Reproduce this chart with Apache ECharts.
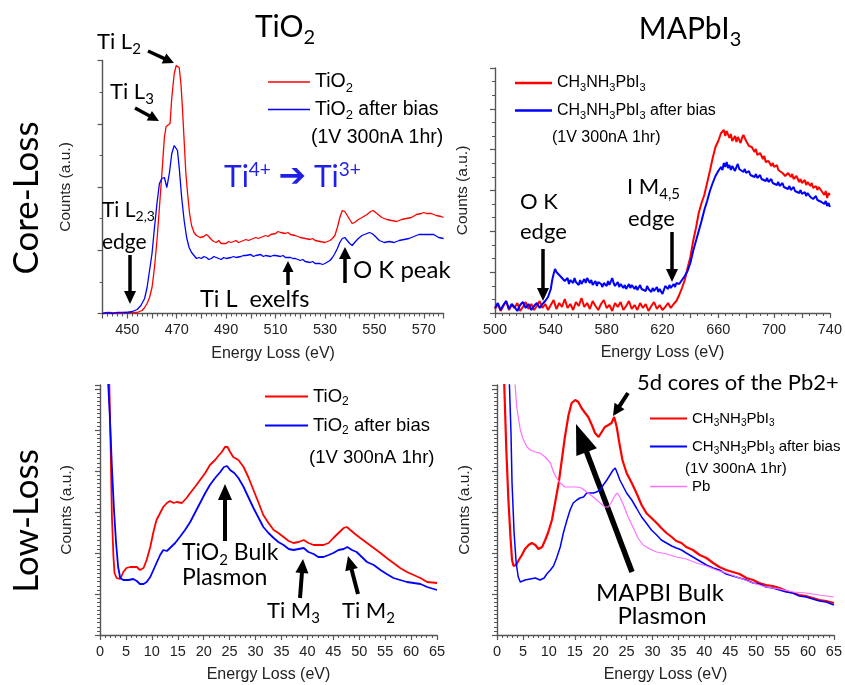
<!DOCTYPE html>
<html><head><meta charset="utf-8">
<script src="https://cdn.jsdelivr.net/npm/echarts@6/dist/echarts.min.js"></script>
<style>html,body{margin:0;padding:0;background:#fff}#c{width:845px;height:685px}</style>
</head><body><div id="c"></div>
<script>
// ---------- DATA (energy loss eV, counts a.u.) ----------
const coreTiO2 = [[440,0],[443,1],[446,0],[449,1],[452,1],[454,1],[455,2],[456,3],[457,6],[458,10],[459,16],[460,26],[461,46],[462,73],[463,106],[464,140],[465,176],[465.7,187],[466.5,186],[467.3,190],[468,216],[469,240],[469.8,248],[470.3,250],[471,246],[471.7,230],[472.3,206],[473,173],[473.7,140],[474.4,120],[475.2,100],[476,88],[477,81],[478,78],[479.5,76],[481,77],[482,79],[483,77],[484,74],[485,72],[486,71],[487,73],[488,70],[490,70],[491,72],[492,71],[494,73],[495,71],[496,72],[498,74],[499,73],[500,74],[502,76],[503,75],[504,76],[506,78],[507,77],[508,79],[510,80],[511,82],[512,81],[514,80],[515,81],[516,79],[518,78],[519,77],[520,76],[522,75],[524,74],[525,75],[526,73],[528,72],[530,71],[531,72],[532,73],[533,75],[534,78],[535,86],[536,96],[537,103],[538,102],[539,98],[540,94],[541,90],[542,91],[543.5,94],[545,96],[547,99],[548.5,102],[549.5,103],[551,100],[553,96],[555,94],[557,93],[559,92],[561,94],[563,95],[565,96],[567,99],[569,100],[570,101],[571,100],[573,100],[575,98],[577,97],[578,96]];
const coreTiO2Bias = [[440,0],[442,1],[444,0],[446,1],[448,1],[450,1],[452,2],[454,4],[455.5,8],[457,15],[458,26],[459,43],[460,60],[461,86],[462,110],[463,130],[464,135],[465,136],[466,126],[467,140],[468,160],[469,168],[469.5,169],[470.3,163],[471,146],[472,116],[473,93],[474,76],[475,66],[476,61],[477,58],[478,55],[479,56],[480,55],[481,57],[482,56],[483,54],[484,55],[485,57],[486,56],[487,55],[488,54],[489,56],[490,55],[492,56],[493,57],[494,56],[496,57],[497,58],[498,58],[500,59],[501,57],[502,58],[504,59],[505,57],[506,58],[508,57],[509,58],[510,58],[512,57],[513,58],[514,56],[516,56],[517,55],[518,55],[520,53],[521,54],[522,52],[524,51],[525,52],[526,50],[528,50],[529,49],[530,50],[532,53],[533,56],[534,60],[535,65],[536,71],[537,75],[538,76],[539,73],[540,70],[541,68],[542,71],[543.5,75],[545,78],[547,80],[548,81],[549,80],[550,78],[552,73],[554,71],[556,72],[558,71],[560,73],[562,74],[564,75],[566,77],[568,79],[570,79],[572,79],[574,79],[576,76],[578,75]];
const coreMAPbI3 = [[500,4],[502,9],[504,2],[506,7],[508,12],[510,3],[512,8],[514,5],[516,10],[518,2],[520,6],[522,11],[524,4],[526,9],[528,3],[530,7],[532,12],[534,5],[536,9],[538,3],[540,8],[542,13],[544,4],[546,10],[548,6],[550,14],[552,5],[554,9],[556,3],[558,11],[560,7],[562,15],[564,6],[566,10],[568,4],[570,12],[572,7],[574,3],[576,9],[578,13],[580,5],[582,8],[584,2],[586,10],[588,6],[590,11],[592,3],[594,7],[596,12],[598,4],[600,8],[602,3],[604,10],[606,5],[608,9],[610,2],[612,7],[614,11],[616,4],[618,8],[620,3],[622,6],[624,10],[626,5],[628,9],[630,12],[632,18],[634,25],[636,33],[638,45],[640,56],[642,72],[644,85],[646,100],[648,110],[650,118],[652,130],[654,142],[656,155],[658,166],[660,172],[662,180],[663,178],[664,183],[665,177],[666,182],[668,175],[669,179],[670,172],[672,177],[673,171],[674,176],[676,170],[677,175],[678,178],[680,172],[681,174],[682,167],[684,166],[686,161],[687,164],[688,158],[690,160],[692,154],[693,157],[694,151],[696,152],[698,147],[699,150],[700,146],[702,148],[703,143],[704,145],[706,140],[707,142],[708,137],[710,140],[712,136],[713,139],[714,134],[716,137],[718,131],[719,134],[720,130],[722,133],[723,128],[724,131],[726,127],[727,130],[728,125],[730,127],[731,123],[732,126],[734,122],[735,124],[736,118],[737,122],[738,115],[739,120],[740,118]];
const coreMAPbI3Bias = [[500,5],[502,10],[504,3],[506,8],[508,12],[510,4],[512,9],[514,6],[516,2],[518,8],[520,11],[522,5],[524,9],[526,3],[528,7],[530,10],[532,5],[534,9],[536,12],[538,16],[540,24],[541,33],[542,39],[543,44],[544,41],[545,43],[546,38],[547,40],[548,35],[549,37],[550,32],[552,35],[553,29],[554,33],[556,30],[557,35],[558,31],[560,28],[561,33],[562,29],[564,34],[565,30],[566,35],[568,30],[569,33],[570,28],[572,32],[573,27],[574,31],[576,29],[577,26],[578,30],[580,27],[581,32],[582,28],[584,35],[585,30],[586,27],[588,31],[589,26],[590,29],[592,25],[593,28],[594,24],[596,29],[597,25],[598,28],[600,24],[601,27],[602,23],[604,28],[605,24],[606,26],[608,22],[609,27],[610,24],[612,21],[613,25],[614,22],[616,26],[617,21],[618,24],[620,19],[621,23],[622,27],[624,24],[625,28],[626,25],[628,29],[629,26],[630,30],[632,29],[634,33],[636,37],[638,42],[640,50],[642,62],[644,72],[646,82],[648,92],[650,103],[652,112],[654,122],[656,130],[658,137],[660,142],[662,146],[663,143],[664,150],[665,146],[666,151],[667,145],[668,148],[669,143],[670,147],[672,142],[673,146],[674,149],[675,144],[676,146],[678,141],[679,144],[680,140],[682,142],[683,138],[684,140],[686,136],[687,139],[688,135],[690,138],[691,134],[692,136],[694,132],[695,135],[696,131],[698,134],[699,130],[700,132],[702,128],[703,131],[704,127],[706,130],[707,126],[708,128],[710,124],[711,127],[712,123],[714,126],[715,122],[716,124],[718,120],[719,123],[720,119],[722,121],[723,117],[724,120],[726,116],[727,118],[728,114],[730,117],[731,113],[732,115],[734,111],[735,113],[736,109],[737,112],[738,107],[739,110],[740,106]];
const lowTiO2 = [[1.3,330],[1.8,250],[2.06,185],[2.3,118],[2.6,78],[2.8,62],[3.2,57],[3.9,56],[4.5,63],[5.1,67],[5.8,68],[6.4,68],[7.1,68],[7.7,65],[8.4,67],[9,75],[9.7,88],[10.3,103],[10.9,115],[11.6,122],[12.2,128],[12.9,132],[13.5,134],[14.2,132],[14.8,133],[15.8,132],[16.7,137],[17.4,142],[18.3,148],[19.3,155],[20.3,162],[21.2,170],[22.2,175],[22.8,179],[23.5,183],[24.1,188],[24.6,188],[25.1,183],[25.7,178],[26.7,175],[27.7,168],[28.6,158],[29.6,145],[30.6,132],[31.5,120],[32.5,112],[33.5,105],[34.4,102],[35.4,98],[36.4,94],[37.3,92],[38.3,93],[39.3,95],[40.2,92],[41.2,90],[42.1,90],[43.1,90],[44.1,92],[45,97],[46,102],[47,107],[47.6,108],[48.3,105],[49.2,101],[50.2,97],[51.5,92],[52.8,87],[54.1,82],[55.3,77],[56.6,72],[57.9,67],[59.2,63],[60.5,60],[61.8,57],[63.1,53],[65,52]];
const lowTiO2Bias = [[1.4,330],[1.6,250],[1.9,218],[2.3,168],[2.7,125],[3.1,92],[3.5,68],[3.9,57],[4.5,55],[5.5,55],[6.4,56],[7.1,54],[7.7,51],[8.4,51],[9,53],[9.7,58],[10.3,65],[10.9,72],[11.6,80],[12.2,85],[12.9,84],[13.5,87],[14.5,92],[15.4,98],[16.4,105],[17.4,113],[18.3,122],[19.3,132],[20.3,142],[21.2,150],[22.2,157],[23.2,163],[23.9,168],[24.5,169],[25.1,165],[25.9,162],[26.7,157],[27.7,148],[28.6,138],[29.6,127],[30.6,117],[31.5,108],[32.5,102],[33.5,97],[34.4,93],[35.4,90],[36.4,86],[37.3,85],[38.3,86],[39.3,87],[40.2,83],[41.2,81],[42.1,78],[43.1,78],[44.1,80],[45,82],[46,85],[47,86],[47.7,88],[48.6,85],[49.5,83],[50.5,78],[51.5,73],[52.8,70],[54.1,65],[55.3,61],[56.6,57],[57.9,55],[59.2,53],[60.5,52],[61.8,51],[63.1,48],[65,45]];
const lowMAPbI3 = [[1.1,330],[1.4,250],[1.8,185],[2.2,135],[2.6,98],[2.9,75],[3.2,69],[3.7,70],[4.2,75],[4.8,80],[5.4,86],[6.1,90],[6.7,92],[7.4,90],[8,86],[8.7,88],[9.3,95],[9.9,103],[10.6,115],[11.2,132],[11.9,152],[12.5,175],[13.1,198],[13.8,220],[14.4,232],[15.1,235],[15.7,233],[16.3,227],[17,222],[17.6,218],[18.3,210],[18.9,202],[19.6,198],[20.2,203],[20.8,208],[21.5,210],[22.1,212],[22.6,218],[23.1,208],[23.6,192],[24.2,175],[25,162],[26,152],[26.9,142],[27.9,130],[28.8,122],[29.8,117],[30.8,112],[31.7,107],[32.7,102],[33.7,98],[34.6,94],[35.6,92],[36.5,88],[37.8,85],[39.1,80],[40.4,77],[41.7,72],[42.9,68],[44.2,65],[45.5,63],[46.8,61],[48.1,57],[49.4,55],[50.6,52],[51.9,50],[53.2,49],[54.5,47],[55.8,44],[57.1,42],[58.3,40],[59.6,39],[60.9,37],[62.2,35],[63.5,34],[65,32]];
const lowMAPbI3Bias = [[2.2,330],[2.4,250],[2.7,202],[2.9,152],[3.3,102],[3.7,72],[4.1,58],[4.5,53],[5.4,55],[6.4,56],[7.4,57],[8.3,55],[9.1,57],[9.6,61],[10.3,65],[10.9,69],[11.5,77],[12.2,88],[12.8,102],[13.5,115],[14.1,125],[14.7,132],[15.4,135],[16,137],[16.7,138],[17.3,142],[17.9,142],[18.6,142],[19.2,143],[19.9,145],[20.5,150],[21.2,155],[21.8,160],[22.4,165],[22.8,167],[23.2,162],[23.7,155],[24.4,148],[25,142],[26,135],[26.9,127],[27.9,118],[28.8,112],[29.8,105],[30.8,100],[31.7,95],[32.7,92],[33.7,89],[34.6,87],[35.6,85],[36.5,82],[37.8,78],[39.1,74],[40.4,70],[41.7,67],[42.9,65],[44.2,61],[45.5,59],[46.8,57],[48.1,55],[49.4,52],[50.6,51],[51.9,48],[53.2,47],[54.5,45],[55.8,43],[57.1,42],[58.3,39],[59.6,38],[60.9,36],[62.2,34],[63.5,33],[65,30]];
const lowPb = [[3.3,330],[3.5,250],[3.8,228],[4.2,215],[4.5,205],[5.1,195],[5.8,188],[6.4,185],[7.4,183],[8.3,182],[9.3,178],[10.3,172],[10.9,163],[11.5,157],[12.2,152],[13.1,148],[14.1,148],[15.4,148],[16.3,147],[17.3,143],[18.6,138],[19.9,132],[20.8,128],[21.5,128],[22.1,133],[22.8,140],[23.2,142],[23.7,138],[24.4,130],[25.3,118],[26.3,107],[27.2,97],[28.2,90],[29.5,86],[30.8,83],[32.7,81],[34.6,78],[36.5,76],[38.5,72],[40.4,69],[42.3,65],[44.2,62],[46.8,57],[49.4,52],[51.9,48],[54.5,46],[57.1,43],[59.6,42],[62.2,40],[65,38]];

// tick label sets
const coreTiO2Ticks = [450,470,490,510,530,550,570];
const coreMAPbTicks = [500,540,580,620,660,700,740];
const lowTicks = [0,5,10,15,20,25,30,35,40,45,50,55,60,65];

// ---------- STYLE ----------
const AX = 'Liberation Sans, Arial, sans-serif';
const AN = 'Lato, sans-serif';
const axCol = '#555';
const RED = '#ff0000', BLUE = '#0000ff', PINK = '#ff70ff';

function subStyle(F, fam, color) {
  return {fontSize: Math.round(F*0.66), fontFamily: fam, fill: color, color: color,
    verticalAlign: 'top', padding: [Math.round(F*0.62), 0, 0, 0]};
}
function annRich(F, color, fam) {
  color = color || '#000';
  fam = fam || AN;
  return {
    s: subStyle(F, fam, color),
    p: {fontSize: Math.round(F*0.64), fontFamily: fam, fill: color, color: color, verticalAlign: 'top', lineHeight: Math.round(F*0.42)},
    a: {fontSize: Math.round(F*1.1), fontFamily: 'DejaVu Sans', fill: color, color: color}
  };
}
const subFmt = n => n.replace(/(\d)/g, '{s|$1}');

function xAxisCfg(grid, min, max, interval, labels, minorSplit) {
  return {
    type: 'value', gridIndex: grid, min, max, interval,
    name: 'Energy Loss (eV)', nameLocation: 'middle', nameGap: 32,
    nameTextStyle: {fontFamily: AX, fontSize: 16, color: '#222'},
    axisLine: {show: true, onZero: false, lineStyle: {color: axCol, width: 1.4}},
    axisTick: {show: true, length: 5, lineStyle: {color: axCol, width: 1.2}},
    minorTick: {show: true, splitNumber: minorSplit, length: 3, lineStyle: {color: axCol}},
    splitLine: {show: false},
    axisLabel: {margin: 9, fontFamily: AX, fontSize: 14.5, color: '#222',
      formatter: v => labels.indexOf(Math.round(v)) >= 0 && Math.abs(v - Math.round(v)) < 1e-6 ? String(Math.round(v)) : ''}
  };
}
function yAxisCfg(grid, max, interval, minorSplit, gap) {
  return {
    type: 'value', gridIndex: grid, min: 0, max, interval,
    name: 'Counts (a.u.)', nameLocation: 'middle', nameGap: gap,
    nameTextStyle: {fontFamily: AX, fontSize: 15.5, color: '#222'},
    axisLine: {show: true, onZero: false, lineStyle: {color: axCol, width: 1.4}},
    axisTick: {show: true, length: 5, lineStyle: {color: axCol, width: 1.2}},
    minorTick: {show: true, splitNumber: minorSplit, length: 3, lineStyle: {color: axCol}},
    splitLine: {show: false},
    axisLabel: {show: false}
  };
}
function ser(name, data, xi, color, w) {
  return {name, type: 'line', data, xAxisIndex: xi, yAxisIndex: xi, symbol: 'none', showSymbol: false,
    clip: true, lineStyle: {color, width: w}, itemStyle: {color}, animation: false, z: 3};
}
function legendCfg(left, top, iw, lw, F, gap, names) {
  return {
    left, top, orient: 'vertical', icon: 'rect', itemWidth: iw, itemHeight: lw, itemGap: gap, data: names,
    formatter: subFmt,
    textStyle: {fontFamily: AX, fontSize: F, color: '#000', rich: {s: subStyle(F, AX, '#000')}},
    selectedMode: false
  };
}
function arrow(x1, y1, x2, y2, w, hl, hw) {
  const dx = x2-x1, dy = y2-y1, L = Math.hypot(dx, dy), ux = dx/L, uy = dy/L, px = -uy, py = ux;
  const bx = x2-ux*hl, by = y2-uy*hl;
  return {type: 'group', silent: true, children: [
    {type: 'line', shape: {x1, y1, x2: bx+ux, y2: by+uy}, style: {stroke: '#000', lineWidth: w}},
    {type: 'polygon', shape: {points: [[x2, y2], [bx+px*hw/2, by+py*hw/2], [bx-px*hw/2, by-py*hw/2]]}, style: {fill: '#000'}}
  ]};
}
function txt(text, x, y, F, opts) {
  opts = opts || {};
  const color = opts.color || '#000';
  const fam = opts.family || AN;
  const dy = text.indexOf('{s|') >= 0 ? -0.14*F : 0;
  return {type: 'text', x, y: y + dy, rotation: opts.rot || 0, silent: true, z: 10,
    style: {text, fill: color, fontFamily: fam, fontSize: F,
      align: opts.align || 'left', textAlign: opts.align || 'left',
      verticalAlign: 'middle', textVerticalAlign: 'middle',
      rich: annRich(F, color, fam)}};
}

const chart = echarts.init(document.getElementById('c'), null, {renderer: 'canvas'});
chart.setOption({
  animation: false,
  backgroundColor: '#fff',
  grid: [
    {left: 102.6, top: 60.5, width: 341, height: 253},
    {left: 495, top: 68, width: 335, height: 245},
    {left: 100, top: 385, width: 337, height: 250},
    {left: 497, top: 385, width: 338, height: 250}
  ],
  xAxis: [
    xAxisCfg(0, 440, 578, 10, coreTiO2Ticks, 5),
    xAxisCfg(1, 500, 740, 20, coreMAPbTicks, 4),
    xAxisCfg(2, 0, 65, 5, lowTicks, 5),
    xAxisCfg(3, 0, 65, 5, lowTicks, 5)
  ],
  yAxis: [
    yAxisCfg(0, 253, 63.25, 2, 29),
    yAxisCfg(1, 245, 245/6, 3, 24),
    yAxisCfg(2, 250, 41, 10, 25),
    yAxisCfg(3, 250, 41, 10, 24)
  ],
  legend: [
    legendCfg(263, 67, 42, 1.5, 19.5, 5, ['TiO2', 'TiO2 after bias']),
    legendCfg(510, 70, 37, 2.5, 16, 9, ['CH3NH3PbI3', 'CH3NH3PbI3 after bias']),
    legendCfg(260, 382, 43, 2, 18.5, 8, ['TiO2', 'TiO2 after bias']),
    legendCfg(645, 406, 37, 2.2, 15, 11, ['CH3NH3PbI3', 'CH3NH3PbI3 after bias']),
    legendCfg(645, 474, 37, 1.5, 15, 5, ['Pb'])
  ],
  series: [
    ser('TiO2', coreTiO2, 0, RED, 1.3),
    ser('TiO2 after bias', coreTiO2Bias, 0, BLUE, 1.3),
    ser('CH3NH3PbI3', coreMAPbI3, 1, RED, 2),
    ser('CH3NH3PbI3 after bias', coreMAPbI3Bias, 1, BLUE, 2),
    ser('TiO2', lowTiO2, 2, RED, 1.8),
    ser('TiO2 after bias', lowTiO2Bias, 2, BLUE, 1.8),
    ser('CH3NH3PbI3', lowMAPbI3, 3, RED, 2.2),
    ser('CH3NH3PbI3 after bias', lowMAPbI3Bias, 3, BLUE, 1.5),
    ser('Pb', lowPb, 3, PINK, 1.2)
  ],
  graphic: [
    // titles
    txt('TiO{s|2}', 285, 32, 30, {align: 'center'}),
    txt('MAPbI{s|3}', 690, 34, 30, {align: 'center'}),
    txt('Core-Loss', 27, 198, 35, {align: 'center', rot: Math.PI/2}),
    txt('Low-Loss', 27, 521, 35, {align: 'center', rot: Math.PI/2}),
    // legend extra lines
    txt('(1V 300nA 1hr)', 311, 138, 19.5, {family: AX}),
    txt('(1V 300nA 1hr)', 552, 138, 16, {family: AX}),
    txt('(1V 300nA 1hr)', 309, 458, 18.5, {family: AX}),
    txt('(1V 300nA 1hr)', 685, 469, 15, {family: AX}),
    // core TiO2 annotations
    txt('Ti L{s|2}', 97, 45, 22),
    arrow(148, 51, 174, 63, 3.5, 11, 11),
    txt('Ti L{s|3}', 110, 95, 22),
    arrow(135, 108, 159, 121, 3.5, 11, 11),
    txt('Ti{p|4+} {a|➔} Ti{p|3+}', 224, 177, 30, {color: '#1f1fe8'}),
    txt('Ti L{s|2,3}', 102, 213, 21),
    txt('edge', 102, 242, 21),
    arrow(130, 255, 130, 304, 3.5, 13, 12),
    txt('Ti L  exelfs', 200, 299, 23.5),
    arrow(288, 285, 288, 261, 3.5, 11, 11),
    txt('O K peak', 353, 270, 24),
    arrow(345, 283, 345, 247, 3.5, 12, 12),
    // core MAPbI3 annotations
    txt('O K', 520, 202, 22),
    txt('edge', 520, 232, 22),
    arrow(543, 249, 543, 301, 3.5, 13, 12),
    txt('I M{s|4,5}', 627, 190, 22),
    txt('edge', 628, 219, 22),
    arrow(672, 232, 672, 282, 3.5, 13, 12),
    // low TiO2 annotations
    arrow(225, 541, 225, 484, 4, 16, 14),
    txt('TiO{s|2} Bulk', 182, 556, 23),
    txt('Plasmon', 182, 578, 23),
    arrow(300, 598, 303, 559, 4, 14, 13),
    txt('Ti M{s|3}', 267, 614, 22),
    arrow(358, 594, 348, 556, 4, 14, 13),
    txt('Ti M{s|2}', 342, 614, 22),
    // low MAPbI3 annotations
    txt('5d cores of the Pb2+', 637, 383, 22),
    arrow(628, 393, 613, 416, 4, 12, 12),
    arrow(632, 572, 576, 424, 5.5, 30, 22),
    txt('MAPBI Bulk', 660, 593, 24, {align: 'center'}),
    txt('Plasmon', 662, 616, 24, {align: 'center'})
  ]
});
</script>
</body></html>
